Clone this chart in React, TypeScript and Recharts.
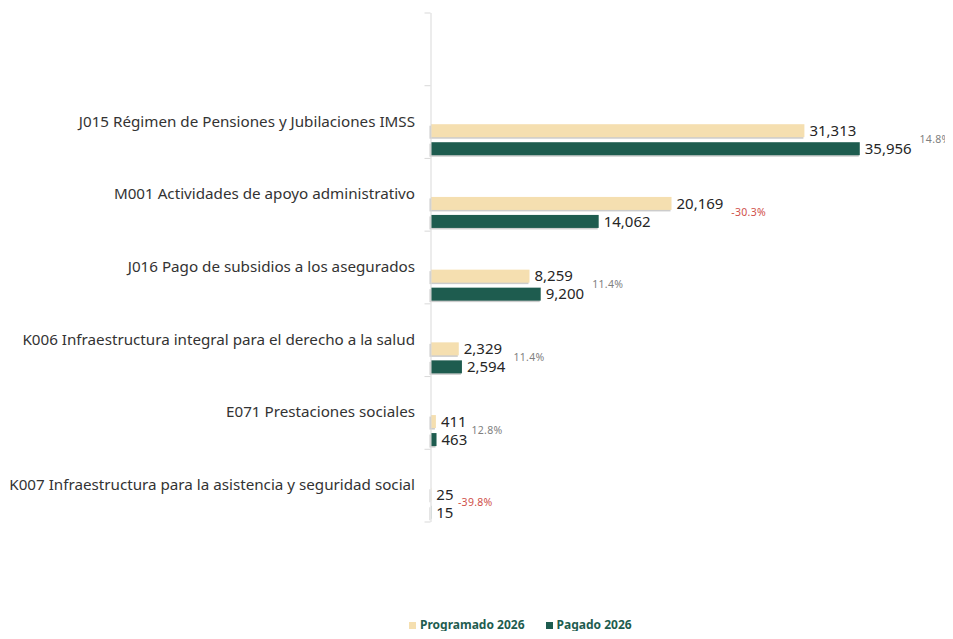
import { BarChart, Bar, XAxis, YAxis, LabelList, Legend } from 'recharts'

const categories = [
  'J015 Régimen de Pensiones y Jubilaciones IMSS',
  'M001 Actividades de apoyo administrativo',
  'J016 Pago de subsidios a los asegurados',
  'K006 Infraestructura integral para el derecho a la salud',
  'E071 Prestaciones sociales',
  'K007 Infraestructura para la asistencia y seguridad social',
]
const programado = [31313, 20169, 8259, 2329, 411, 25]
const pagado = [35956, 14062, 9200, 2594, 463, 15]
const variacion = [14.8, -30.3, 11.4, 11.4, 12.8, -39.8]

const BEIGE = '#f5dfb0'
const GREEN = '#1e5c4f'
const BAND = 509 / 7
const DY = 17.5
const AXIS_X = 430.5
const FONT = '"Noto Sans", "Open Sans", sans-serif'

// blank first row leaves the empty band at the top
const data = [
  { name: '', programado: null, pagado: null, variacion: null },
  ...categories.map((name, i) => ({
    name,
    programado: programado[i],
    pagado: pagado[i],
    variacion: variacion[i],
  })),
]

const fmt = (v: any) => (typeof v === 'number' ? v.toLocaleString('en-US') : '')

const box = (props: any) => {
  const vb = props.viewBox || {}
  return {
    x: props.x ?? vb.x,
    y: props.y ?? vb.y,
    width: props.width ?? vb.width ?? 0,
    height: props.height ?? vb.height ?? 0,
  }
}

const shiftedBar = (fill: string) => (props: any) => {
  const { x, y, width, height } = props
  if (x == null || y == null || !height) return null
  const w = Math.max(width || 0, 0)
  return (
    <g>
      <rect x={x - 1.5} y={y + DY + 1.5} width={w + 0.5} height={height} fill="#cccccc" />
      <rect x={x} y={y + DY} width={w} height={height} fill={fill} />
    </g>
  )
}

const valueLabel = (props: any) => {
  const { value } = props
  if (typeof value !== 'number') return null
  const { x, y, width, height } = box(props)
  return (
    <text x={x + width + 5} y={y + DY + height / 2} dy="0.35em" fontSize={15} fill="#262626">
      {fmt(value)}
    </text>
  )
}

// green value label plus the variation label beside the pair
const pagadoLabel = (props: any) => {
  const { value } = props
  if (typeof value !== 'number') return null
  const row: any = data.find((d) => d.pagado === value)
  const { x, y, width } = box(props)
  const greenEnd = x + width
  const beigeEnd = x + (width * row.programado) / row.pagado
  const txtW = (v: number) => fmt(v).length * 8.3
  const end = Math.max(beigeEnd + 5 + txtW(row.programado), greenEnd + 5 + txtW(row.pagado))
  const pct = row.variacion as number
  return (
    <g>
      {valueLabel(props)}
      <text
        x={end + 5}
        y={y + DY - 3}
        dy="0.35em"
        fontSize={10.5}
        letterSpacing={0.3}
        fill={pct < 0 ? '#d0504a' : '#7f7f7f'}
      >
        {pct.toFixed(1)}%
      </text>
    </g>
  )
}

const CategoryTick = (props: any) => {
  const { y, payload, index } = props
  const last = index === data.length - 1
  return (
    <g>
      <line x1={AXIS_X - 6} x2={AXIS_X} y1={y - BAND / 2} y2={y - BAND / 2} stroke="#d9d9d9" />
      {last && (
        <line x1={AXIS_X - 6} x2={AXIS_X} y1={y + BAND / 2} y2={y + BAND / 2} stroke="#d9d9d9" />
      )}
      <text x={415} y={y} dy="0.3em" textAnchor="end" fontSize={15.2} fill="#333333">
        {payload.value}
      </text>
    </g>
  )
}

const LegendContent = () => (
  <div
    style={{
      display: 'flex',
      paddingLeft: 409,
      fontFamily: FONT,
      fontWeight: 700,
      fontSize: 12,
      color: GREEN,
      lineHeight: '14px',
      height: 14,
    }}
  >
    <span style={{ display: 'flex', alignItems: 'center', marginRight: 21 }}>
      <span style={{ width: 7, height: 7, background: BEIGE, marginRight: 4 }} />
      Programado 2026
    </span>
    <span style={{ display: 'flex', alignItems: 'center' }}>
      <span style={{ width: 7, height: 7, background: GREEN, marginRight: 4 }} />
      Pagado 2026
    </span>
  </div>
)

export default function App() {
  return (
    <div style={{ position: 'relative', margin: -8, width: 953, height: 639, fontFamily: FONT }}>
      <div
        style={{
          position: 'absolute',
          top: -11,
          left: 0,
          width: 953,
          textAlign: 'center',
          paddingLeft: 92,
          boxSizing: 'border-box',
          fontSize: 13,
          lineHeight: '13px',
          color: '#2a7f70',
        }}
      >
        (millones de pesos)
      </div>
      <BarChart
        width={953}
        height={639}
        data={data}
        layout="vertical"
        margin={{ top: 13, right: 45, left: 0, bottom: 103 }}
        barSize={13}
        barGap={5}
        style={{ fontFamily: FONT }}
      >
        <XAxis type="number" domain={[0, 40000]} hide />
        <YAxis
          type="category"
          dataKey="name"
          width={431}
          axisLine={{ stroke: '#d9d9d9' }}
          tickLine={false}
          tick={<CategoryTick />}
          interval={0}
        />
        <Bar dataKey="programado" fill={BEIGE} shape={shiftedBar(BEIGE)} isAnimationActive={false}>
          <LabelList dataKey="programado" content={valueLabel} />
        </Bar>
        <Bar dataKey="pagado" fill={GREEN} shape={shiftedBar(GREEN)} isAnimationActive={false}>
          <LabelList dataKey="pagado" content={pagadoLabel} />
        </Bar>
        <Legend
          verticalAlign="bottom"
          content={<LegendContent />}
          wrapperStyle={{ position: 'absolute', top: 618, left: 0, width: 953, height: 14 }}
        />
      </BarChart>
    </div>
  )
}
